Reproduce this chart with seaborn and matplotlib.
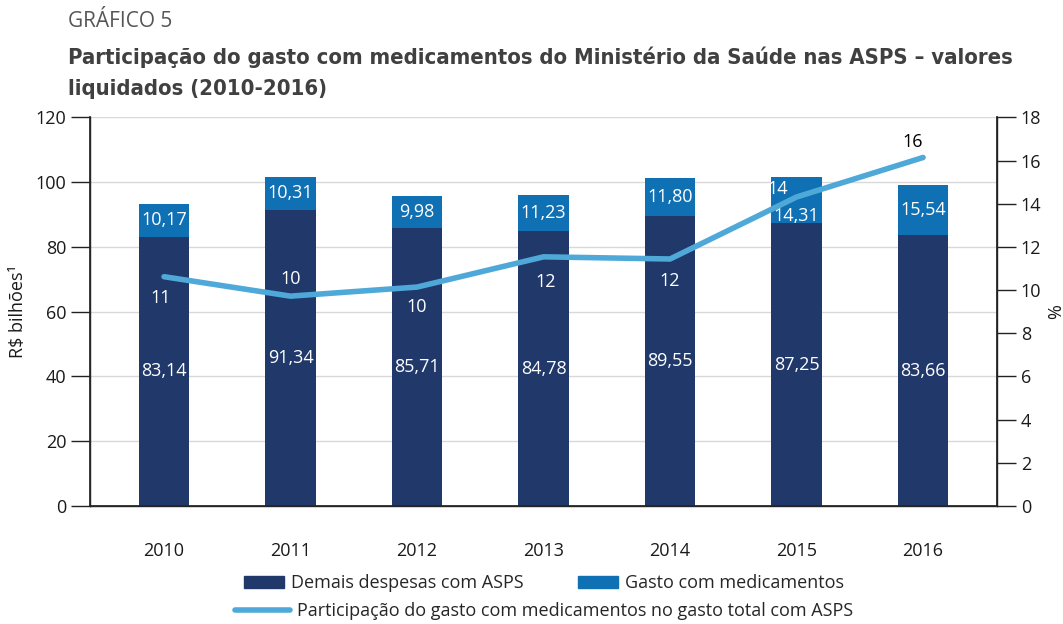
import numpy as np
import pandas as pd
import matplotlib
matplotlib.use("Agg")
import matplotlib.pyplot as plt
import seaborn as sns
from matplotlib.patches import Patch
from matplotlib.lines import Line2D

# dados
anos = ["2010", "2011", "2012", "2013", "2014", "2015", "2016"]
demais = [83.14, 91.34, 85.71, 84.78, 89.55, 87.25, 83.66]
medicamentos = [10.17, 10.31, 9.98, 11.23, 11.80, 14.31, 15.54]
participacao = [10.62, 9.72, 10.14, 11.54, 11.44, 14.31, 16.14]
rotulos_part = ["11", "10", "10", "12", "12", "14", "16"]

sns.set_theme(style="white")
plt.rcParams["font.family"] = ["Open Sans", "DejaVu Sans"]

NAVY = "#21386A"
BLUE = "#1070B4"
LINE = "#4EA9D9"
TXT = "#1a1a1a"

df = pd.DataFrame({"ano": anos, "demais": demais, "med": medicamentos})
df["total"] = df["demais"] + df["med"]

fig = plt.figure(figsize=(10.63, 6.24), dpi=100)
ax = fig.add_axes([0.0847, 0.189, 0.8533, 0.623])

sns.barplot(data=df, x="ano", y="total", color=BLUE, saturation=1, width=0.4, linewidth=0, ax=ax)
sns.barplot(data=df, x="ano", y="demais", color=NAVY, saturation=1, width=0.4, linewidth=0, ax=ax)

xlim = (-0.585, 6.585)
ax.set_xlim(*xlim)
ax.set_ylim(0, 120)
ax.set_yticks(range(0, 121, 20))
ax.yaxis.grid(True, color="#D9D9D9", lw=1)
ax.set_axisbelow(True)
ax.set_xlabel("")
ax.set_ylabel("R$ bilhões¹", fontsize=13, labelpad=6, color=TXT)
ax.spines["top"].set_visible(False)
for s in ["left", "bottom", "right"]:
    ax.spines[s].set_color("#222222")
    ax.spines[s].set_linewidth(1)
ax.tick_params(axis="y", length=14, width=1, color="#222222", labelsize=13, pad=3, labelcolor=TXT)
ax.tick_params(axis="x", length=0, labelsize=13, pad=26, labelcolor=TXT)
ax.set_xticks(np.linspace(*xlim, 8), minor=True)
ax.tick_params(axis="x", which="minor", length=14, width=1, color="#222222", direction="out")

for i in range(len(anos)):
    ax.text(i, demais[i] / 2, f"{demais[i]:.2f}".replace(".", ","), ha="center", va="center",
            color="white", fontsize=13)
    ym = demais[i] + medicamentos[i] / 2
    if anos[i] == "2015":
        ym = demais[i] + medicamentos[i] * 0.15
    ax.text(i, ym, f"{medicamentos[i]:.2f}".replace(".", ","), ha="center", va="center",
            color="white", fontsize=13)

ax2 = ax.twinx()
sns.lineplot(x=np.arange(len(anos)), y=participacao, color=LINE, lw=4, ax=ax2)
ax2.set_ylim(0, 18)
ax2.set_yticks(range(0, 19, 2))
ax2.set_xlim(*xlim)
ax2.set_ylabel("%", fontsize=13, labelpad=4, color=TXT)
ax2.spines["top"].set_visible(False)
ax2.spines["right"].set_color("#222222")
ax2.tick_params(axis="y", length=14, width=1, color="#222222", labelsize=13, pad=3, labelcolor=TXT)

# rotulos da participacao
offs = [(-0.03, -1.0), (0.0, 0.8), (0.0, -0.9), (0.02, -1.15), (0.0, -1.0), (-0.15, 0.35), (-0.08, 0.7)]
cores = ["white"] * 6 + ["black"]
for i, v in enumerate(participacao):
    dx, dy = offs[i]
    ax2.text(i + dx, v + dy, rotulos_part[i], ha="center", va="center", color=cores[i], fontsize=13)

fig.text(0.064, 0.965, "GRÁFICO 5", fontsize=15, color="#555555", va="center")
l1 = "Participação do gasto com medicamentos do Ministério da Saúde nas ASPS – valores"
l2 = "liquidados (2010-2016)"
t1 = fig.text(0.064, 0.909, l1, fontsize=17, fontweight="bold", color="#404040", va="center",
              family=["DejaVu Sans"], fontstretch="condensed")
t2 = fig.text(0.064, 0.858, l2, fontsize=17, fontweight="bold", color="#404040", va="center",
              family=["DejaVu Sans"], fontstretch="condensed")
fig.canvas.draw()
w = t1.get_window_extent().width
fs = 17 * 945 / w
t1.set_fontsize(fs)
t2.set_fontsize(fs)

h1 = [Patch(color=NAVY), Patch(color=BLUE)]
fig.legend(h1, ["Demais despesas com ASPS", "Gasto com medicamentos"], ncol=2,
           loc="center", bbox_to_anchor=(0.512, 0.065), frameon=False, fontsize=13,
           handlelength=2.2, handleheight=0.6, columnspacing=3.0, handletextpad=0.4)
h2 = [Line2D([], [], color=LINE, lw=4)]
fig.legend(h2, ["Participação do gasto com medicamentos no gasto total com ASPS"],
           loc="center", bbox_to_anchor=(0.512, 0.021), frameon=False, fontsize=13,
           handlelength=3.0, handletextpad=0.4)

fig.savefig("out.png", dpi=100)
